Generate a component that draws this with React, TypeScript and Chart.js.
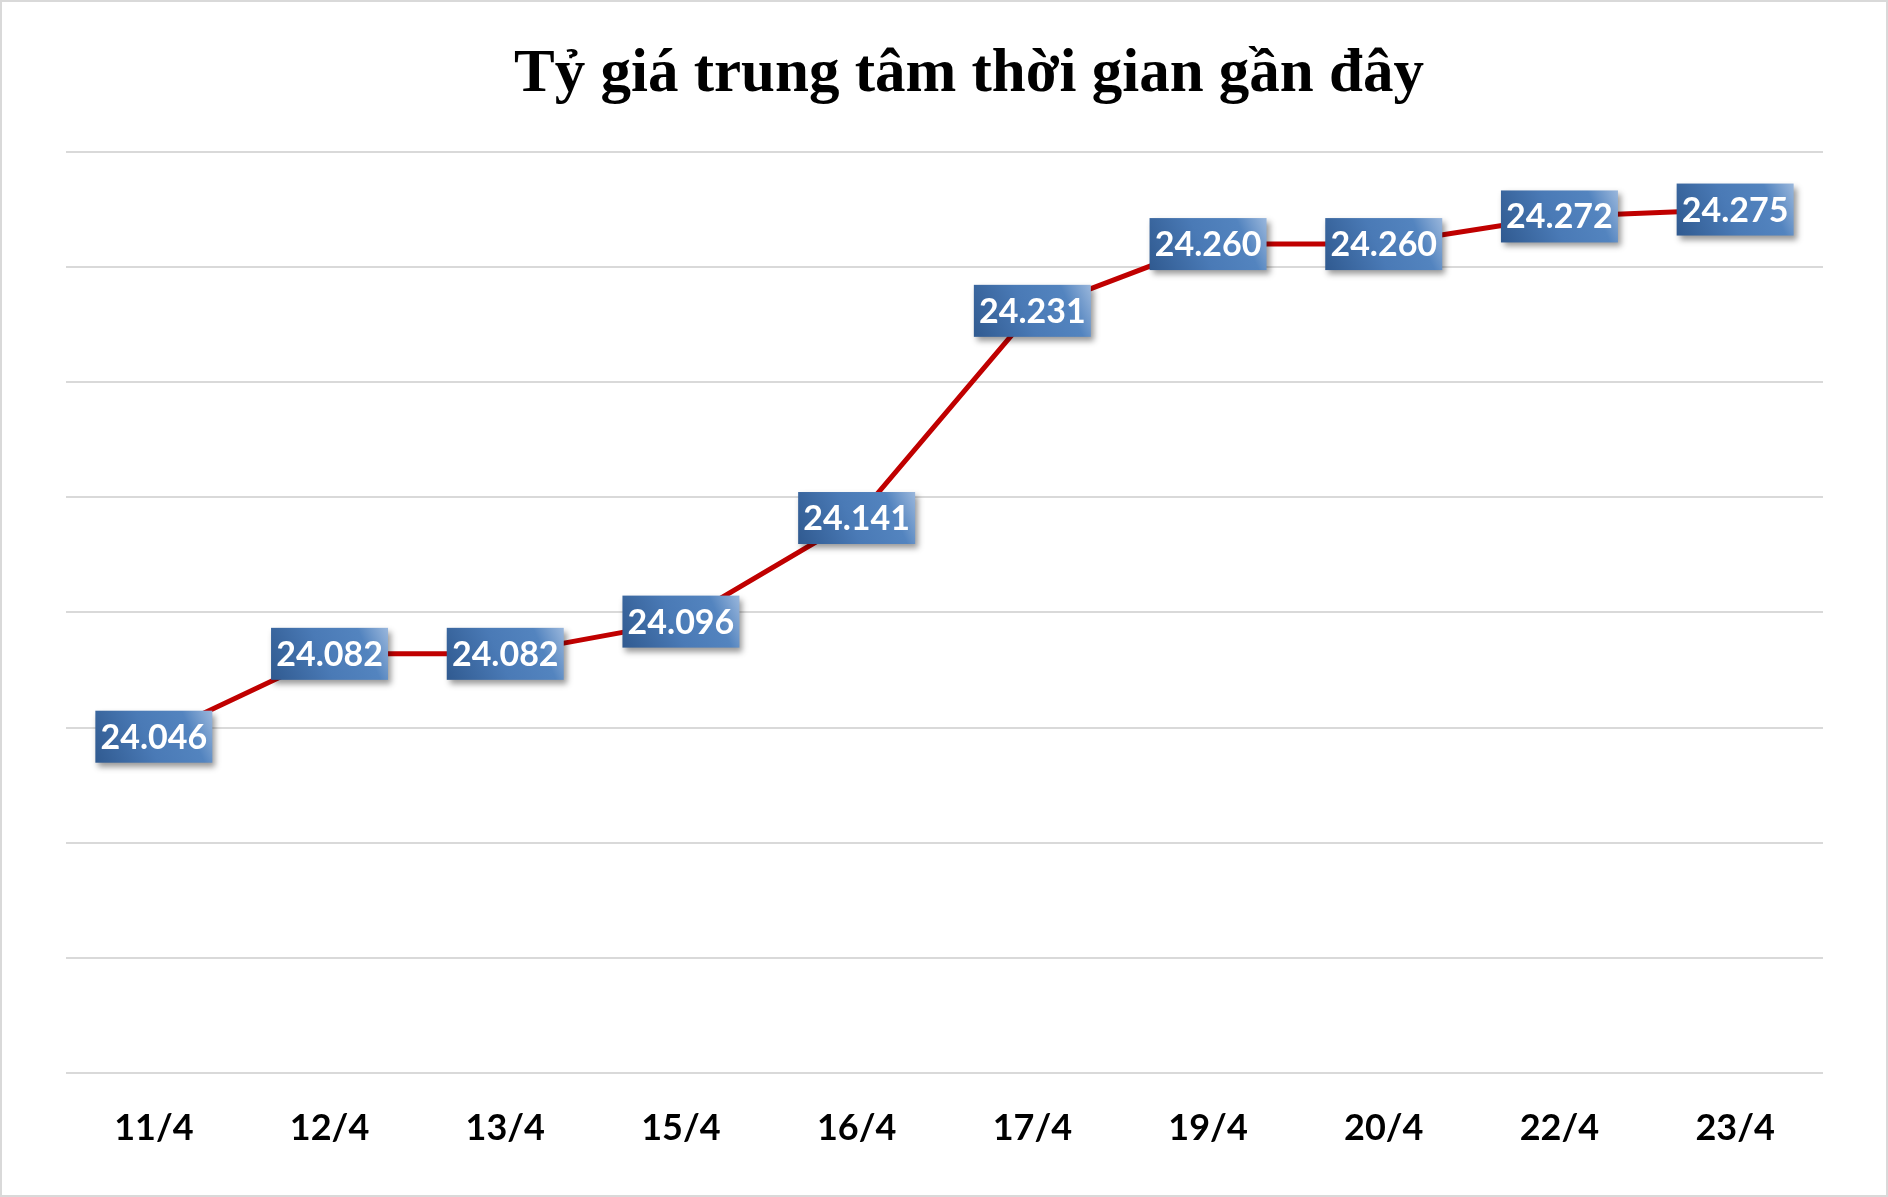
import React, { useEffect, useRef } from 'react';
import { Chart, registerables } from 'chart.js';
Chart.register(...registerables);

const days = ['11/4', '12/4', '13/4', '15/4', '16/4', '17/4', '19/4', '20/4', '22/4', '23/4'];
const rates = [24046, 24082, 24082, 24096, 24141, 24231, 24260, 24260, 24272, 24275];
const yMin = 23900;
const yMax = 24300;
const yStep = 50;

const chartTitle = 'Tỷ giá trung tâm thời gian gần đây';

function formatRate(v: number) {
  // 24046 -> "24.046"
  return v.toLocaleString('de-DE');
}

// title sits a bit right of the plot centre, as in the original
const titleText = {
  id: 'titleText',
  afterDraw(chart: Chart) {
    const ctx = chart.ctx;
    ctx.save();
    ctx.fillStyle = '#000000';
    ctx.font = 'bold 61px "Liberation Serif"';
    ctx.textAlign = 'center';
    ctx.textBaseline = 'middle';
    ctx.fillText(chartTitle, 967, 73);
    ctx.restore();
  },
};

// draws the blue value boxes on every point
const valueBoxes = {
  id: 'valueBoxes',
  afterDatasetsDraw(chart: Chart) {
    const ctx = chart.ctx;
    const meta = chart.getDatasetMeta(0);
    const w = 117;
    const h = 52;
    meta.data.forEach((pt: any, i: number) => {
      const x = pt.x - w / 2;
      const y = pt.y - h / 2;
      ctx.save();
      ctx.shadowColor = 'rgba(0,0,0,0.4)';
      ctx.shadowBlur = 6;
      ctx.shadowOffsetX = 3;
      ctx.shadowOffsetY = 4;
      const g = ctx.createLinearGradient(x, y + h, x + w, y);
      g.addColorStop(0, '#305a90');
      g.addColorStop(0.45, '#4a7ab6');
      g.addColorStop(0.78, '#5384bf');
      g.addColorStop(1, '#9ab7dc');
      ctx.fillStyle = g;
      ctx.fillRect(x, y, w, h);
      ctx.restore();

      ctx.save();
      ctx.fillStyle = '#ffffff';
      ctx.font = 'bold 34px Lato';
      ctx.textAlign = 'center';
      ctx.textBaseline = 'middle';
      ctx.fillText(formatRate(rates[i]), pt.x, pt.y + 1);
      ctx.restore();
    });
  },
};

export default function App() {
  const canvasRef = useRef<HTMLCanvasElement>(null);
  const chartRef = useRef<Chart | null>(null);

  useEffect(() => {
    document.body.style.margin = '0';
    if (!canvasRef.current) return;
    if (chartRef.current) chartRef.current.destroy();

    chartRef.current = new Chart(canvasRef.current, {
      type: 'line',
      data: {
        labels: days,
        datasets: [{
          data: rates,
          borderColor: '#c00000',
          borderWidth: 5,
          pointRadius: 0,
          tension: 0,
        }],
      },
      options: {
        animation: false,
        responsive: false,
        layout: { padding: { left: 64, right: 63, top: 150, bottom: 11 } },
        plugins: {
          legend: { display: false },
          tooltip: { enabled: false },
          title: { display: false },
        },
        scales: {
          x: {
            offset: true,
            grid: { display: false, drawTicks: false },
            border: { display: false },
            ticks: {
              color: '#000000',
              padding: 34,
              font: { family: 'Lato', size: 36, weight: 'bold', lineHeight: 1.2 },
            },
          },
          y: {
            min: yMin,
            max: yMax,
            ticks: { display: false, stepSize: yStep },
            grid: { color: '#d9d9d9', lineWidth: 2, drawTicks: false },
            border: { display: false },
          },
        },
      },
      plugins: [valueBoxes, titleText],
    });

    return () => {
      if (chartRef.current) {
        chartRef.current.destroy();
        chartRef.current = null;
      }
    };
  }, []);

  return (
    <div style={{ position: 'relative', width: 1888, height: 1197, background: '#fff' }}>
      <div style={{ position: 'absolute', left: 2, top: 2, width: 1884, height: 1193 }}>
        <canvas ref={canvasRef} width={1884} height={1193} style={{ display: 'block' }}></canvas>
      </div>
      <div style={{ position: 'absolute', inset: 0, boxSizing: 'border-box', border: '2px solid #d9d9d9', pointerEvents: 'none' }}></div>
    </div>
  );
}
